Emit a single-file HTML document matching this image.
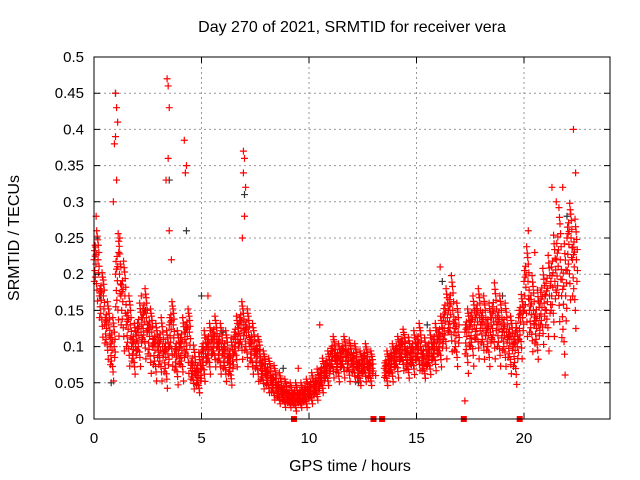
<!DOCTYPE html>
<html><head><meta charset="utf-8"><style>
body{margin:0;background:#fff}
svg{display:block;font-family:"Liberation Sans",sans-serif}
</style></head><body>
<svg id="chart" width="640" height="480">
<text x="352" y="32" font-size="16" text-anchor="middle">Day 270 of 2021, SRMTID for receiver vera</text>
<text x="350" y="471" font-size="16" text-anchor="middle">GPS time / hours</text>
<text transform="translate(19,238) rotate(-90)" font-size="16" text-anchor="middle">SRMTID / TECUs</text>
<g id="grid"></g><g id="marks"></g><g id="axes"></g>
</svg>
<script>
const times=[0,0.25,0.5,0.75,1.0,1.25,1.5,1.75,2.0,2.25,2.5,2.75,3.0,3.25,3.5,3.75,4.0,4.25,4.5,4.75,5.0,5.25,5.5,5.75,6.0,6.25,6.5,6.75,7.0,7.25,7.5,7.75,8.0,8.25,8.5,8.75,9.0,9.25,9.5,9.75,10,10.25,10.5,10.75,11,11.25,11.5,11.75,12,12.25,12.5,12.75,13.5,13.75,14,14.25,14.5,14.75,15,15.25,15.5,15.75,16,16.25,16.5,16.75,17.25,17.5,17.75,18,18.25,18.5,18.75,19,19.25,19.5,19.75,20,20.25,20.5,20.75,21,21.25,21.5,21.75,22,22.25];
const midVals=[0.22,0.17,0.13,0.10,0.20,0.17,0.13,0.10,0.12,0.14,0.12,0.10,0.10,0.09,0.13,0.09,0.10,0.12,0.07,0.06,0.09,0.10,0.11,0.10,0.09,0.08,0.11,0.13,0.12,0.10,0.09,0.07,0.06,0.05,0.04,0.035,0.03,0.03,0.03,0.035,0.04,0.045,0.06,0.07,0.09,0.08,0.09,0.085,0.08,0.07,0.08,0.07,0.07,0.08,0.09,0.10,0.085,0.09,0.10,0.08,0.09,0.10,0.11,0.14,0.15,0.12,0.12,0.13,0.14,0.13,0.12,0.14,0.13,0.12,0.11,0.10,0.14,0.19,0.15,0.13,0.16,0.17,0.19,0.22,0.17,0.25,0.22];
const lowVals=[0.16,0.11,0.08,0.05,0.11,0.09,0.07,0.06,0.07,0.08,0.06,0.05,0.05,0.04,0.07,0.045,0.05,0.06,0.04,0.035,0.05,0.06,0.07,0.06,0.05,0.045,0.07,0.08,0.07,0.06,0.05,0.04,0.035,0.025,0.02,0.015,0.015,0.01,0.015,0.015,0.02,0.025,0.035,0.045,0.055,0.05,0.055,0.05,0.05,0.045,0.05,0.045,0.045,0.05,0.055,0.065,0.055,0.06,0.065,0.055,0.06,0.065,0.07,0.08,0.09,0.07,0.06,0.07,0.08,0.08,0.07,0.08,0.07,0.07,0.06,0.045,0.08,0.11,0.09,0.08,0.10,0.09,0.11,0.13,0.055,0.16,0.12];
const highVals=[0.27,0.21,0.17,0.15,0.27,0.23,0.18,0.14,0.17,0.19,0.16,0.14,0.15,0.13,0.17,0.13,0.15,0.16,0.11,0.10,0.13,0.14,0.15,0.14,0.13,0.12,0.15,0.17,0.16,0.14,0.12,0.10,0.09,0.08,0.07,0.06,0.055,0.055,0.055,0.06,0.07,0.075,0.09,0.10,0.12,0.11,0.12,0.115,0.11,0.10,0.11,0.10,0.10,0.11,0.12,0.13,0.12,0.13,0.14,0.12,0.13,0.14,0.15,0.19,0.21,0.17,0.16,0.18,0.19,0.18,0.17,0.20,0.18,0.17,0.15,0.14,0.18,0.25,0.21,0.19,0.22,0.24,0.27,0.31,0.26,0.31,0.29];
const spikeTimes=[1.0,1.05,1.1,1.0,0.95,0.9,1.05,1.15,3.4,3.45,3.5,3.45,3.35,3.5,3.6,4.2,4.3,4.25,6.95,7.0,6.95,7.05,7.0,6.9,0.1,0.05,1.2,1.25,2.2,5.3,9.5,10.5,17.25,19.6,22.3,22.4,21.3,21.5,21.8,20.2,20.5,16.1,13.1];
const spikeVals=[0.45,0.43,0.41,0.39,0.38,0.30,0.33,0.23,0.47,0.46,0.43,0.36,0.33,0.26,0.22,0.385,0.35,0.34,0.37,0.36,0.34,0.32,0.28,0.25,0.28,0.24,0.25,0.21,0.17,0.17,0.07,0.13,0.025,0.12,0.40,0.34,0.32,0.30,0.32,0.26,0.23,0.21,0.06];
const darkTimes=[1.0,3.5,4.3,7.0,0.8,2.4,5.0,8.8,12.3,15.5,16.2,18.0,19.0,21.0,22.0,0.3,6.0];
const darkVals=[0.45,0.33,0.26,0.31,0.05,0.15,0.17,0.07,0.05,0.13,0.19,0.13,0.17,0.17,0.28,0.17,0.12];
const zeroTimes=[9.3,13.0,13.4,17.2,19.8];
const xTicks=[0,5,10,15,20];
const yTicks=[0,0.05,0.1,0.15,0.2,0.25,0.3,0.35,0.4,0.45,0.5];
const yLabels=["0","0.05","0.1","0.15","0.2","0.25","0.3","0.35","0.4","0.45","0.5"];
const X0=94,X1=610,Y0=419,Y1=57;
const xs=t=>X0+(t/24)*(X1-X0);
const ys=v=>Y0-(v/0.5)*(Y0-Y1);
const NS="http://www.w3.org/2000/svg";
function mk(tag,attrs,parent){const e=document.createElementNS(NS,tag);for(const k in attrs)e.setAttribute(k,attrs[k]);parent.appendChild(e);return e;}
const grid=document.getElementById('grid'),marks=document.getElementById('marks'),axes=document.getElementById('axes');
xTicks.forEach((t,i)=>{const x=xs(t);
 const g=mk('line',{x1:x,x2:x,y1:Y0,y2:Y1,stroke:'#999','stroke-dasharray':'2,3'},grid);
 
 
 const tk=mk('path',{d:`M${x},${Y0}v-6M${x},${Y1}v6`,stroke:'#000'},axes);
 
 
 const l=mk('text',{x:x,y:Y0+24,'font-size':15,'text-anchor':'middle'},axes);l.textContent=String(t);
 
 
});
yTicks.forEach((v,i)=>{const y=ys(v);
 const g=mk('line',{x1:X0,x2:X1,y1:y,y2:y,stroke:'#999','stroke-dasharray':'2,3'},grid);
 
 
 const tk=mk('path',{d:`M${X0},${y}h6M${X1},${y}h-6`,stroke:'#000'},axes);
 
 
 const l=mk('text',{x:X0-10,y:y+5,'font-size':15,'text-anchor':'end'},axes);l.textContent=yLabels[i];
 
 
});
const border=mk('rect',{x:X0,y:Y1,width:X1-X0,height:Y0-Y1,fill:'none',stroke:'#000'},axes);


function plus(t,v,col){const x=xs(t),y=ys(v);
 const p=mk('path',{d:`M${x-3.5},${y}h7M${x},${y-3.5}v7`,stroke:col,'stroke-width':1.2},marks);
 
 }
darkTimes.forEach((t,i)=>plus(t,darkVals[i],'#333'));
const fr=[0,0.5,0.25,0.75,0.1,0.6,0.35,0.9,0.15,0.45,0.8,0.3,0.65,0.05,0.55,1.0,0.4,0.7,0.2,0.85];
times.forEach((t,i)=>{
 fr.forEach((f,k)=>{
  const v=k%2? lowVals[i]+(midVals[i]-lowVals[i])*f : midVals[i]+(highVals[i]-midVals[i])*f;
  plus(t+k*0.0125,v,'#f00');
 });
});
spikeTimes.forEach((t,i)=>plus(t,spikeVals[i],'#f00'));
zeroTimes.forEach(t=>{const r=mk('rect',{x:xs(t)-3,y:Y0-3,width:6,height:6,fill:'#f00'},marks);
 
 });
</script>
</body></html>
